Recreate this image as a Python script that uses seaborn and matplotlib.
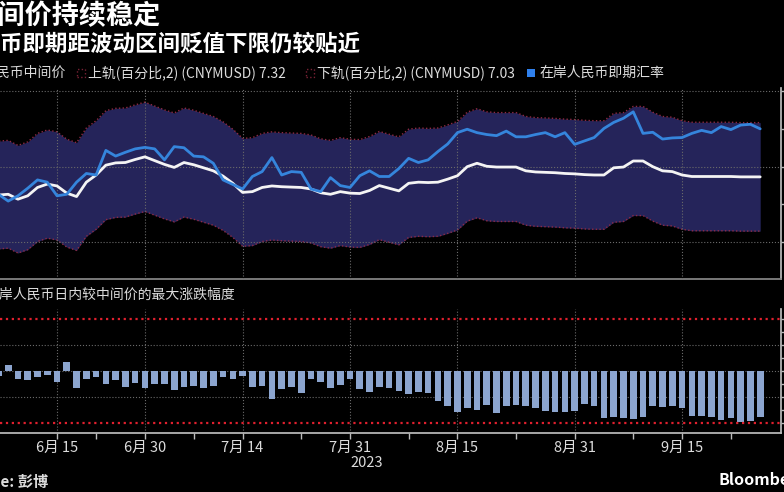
import matplotlib
matplotlib.use("Agg")
import matplotlib.pyplot as plt
from matplotlib.patches import Rectangle
import seaborn as sns
import numpy as np
import pandas as pd

# trading days (China onshore, Dragon Boat holiday removed)
holidays = ["2023-06-22", "2023-06-23"]
dates = pd.bdate_range("2023-06-07", "2023-09-27")
dates = dates[~dates.isin(pd.to_datetime(holidays))]

# 人民币中间价 (CNY fixing)
fixing = [7.125, 7.127, 7.114, 7.123, 7.145, 7.154, 7.149, 7.130, 7.121, 7.159,
          7.178, 7.204, 7.210, 7.211, 7.219, 7.226, 7.216, 7.206, 7.198, 7.211,
          7.205, 7.197, 7.189, 7.175, 7.156, 7.132, 7.134, 7.145, 7.149, 7.147,
          7.146, 7.145, 7.141, 7.131, 7.127, 7.134, 7.130, 7.129, 7.137, 7.150,
          7.143, 7.136, 7.156, 7.159, 7.158, 7.159, 7.167, 7.176, 7.200, 7.209,
          7.201, 7.199, 7.199, 7.199, 7.189, 7.186, 7.185, 7.184, 7.182, 7.181,
          7.179, 7.178, 7.178, 7.197, 7.199, 7.215, 7.215, 7.200, 7.189, 7.187,
          7.178, 7.174, 7.174, 7.174, 7.174, 7.174, 7.173, 7.173, 7.173]

# 在岸人民币即期汇率 (onshore spot)
spot = [7.127, 7.109, 7.123, 7.143, 7.165, 7.159, 7.123, 7.127, 7.159, 7.182,
        7.178, 7.243, 7.228, 7.238, 7.247, 7.251, 7.247, 7.218, 7.253, 7.250,
        7.228, 7.226, 7.209, 7.165, 7.153, 7.141, 7.174, 7.187, 7.224, 7.178,
        7.187, 7.185, 7.141, 7.134, 7.171, 7.150, 7.145, 7.176, 7.189, 7.174,
        7.174, 7.195, 7.222, 7.211, 7.218, 7.240, 7.260, 7.290, 7.299, 7.290,
        7.285, 7.282, 7.294, 7.279, 7.279, 7.285, 7.290, 7.279, 7.290, 7.259,
        7.268, 7.277, 7.301, 7.317, 7.328, 7.345, 7.288, 7.291, 7.273, 7.276,
        7.277, 7.288, 7.296, 7.290, 7.306, 7.298, 7.310, 7.312, 7.300]

# 日内较中间价的最大涨跌幅度 (%)
max_dev = [-0.22, 0.22, -0.32, -0.38, -0.26, -0.17, -0.45, 0.32, -0.68, -0.33,
           -0.26, -0.51, -0.38, -0.64, -0.49, -0.65, -0.53, -0.53, -0.74, -0.62,
           -0.58, -0.68, -0.58, -0.26, -0.33, -0.19, -0.64, -0.59, -1.09, -0.71,
           -0.62, -0.87, -0.32, -0.45, -0.68, -0.55, -0.32, -0.71, -0.83, -0.64,
           -0.68, -0.78, -0.90, -0.82, -0.87, -1.15, -1.35, -1.60, -1.45, -1.51,
           -1.32, -1.64, -1.38, -1.32, -1.36, -1.45, -1.55, -1.58, -1.58, -1.55,
           -1.28, -1.35, -1.83, -1.78, -1.83, -1.88, -1.77, -1.35, -1.41, -1.38,
           -1.45, -1.74, -1.74, -1.78, -1.91, -1.82, -1.96, -1.95, -1.79]

band_pct = 2  # 上轨/下轨 = 中间价 ± 2%

tick_dates = ["2023-06-15", "2023-06-30", "2023-07-14", "2023-07-31",
              "2023-08-15", "2023-08-31", "2023-09-15"]
tick_labels = ["6月 15", "6月 30", "7月 14", "7月 31", "8月 15", "8月 31", "9月 15"]
minor_dates = ["2023-06-21", "2023-07-07", "2023-07-24", "2023-08-08",
               "2023-08-23", "2023-09-08", "2023-09-22"]
top_ticks = [7.0, 7.1, 7.2, 7.3, 7.4]
bottom_ticks = [-2, -1.5, -1, -0.5, 0, 0.5, 1, 1.5, 2]

df = pd.DataFrame({"date": dates, "fixing": fixing, "spot": spot, "dev": max_dev})
df["pos"] = np.arange(len(df))
df["upper"] = df["fixing"] * (1 + band_pct / 100)
df["lower"] = df["fixing"] * (1 - band_pct / 100)

pos_of = {d: p for d, p in zip(df["date"], df["pos"])}
major_pos = [pos_of[pd.Timestamp(d)] for d in tick_dates]
minor_pos = [pos_of[pd.Timestamp(d)] for d in minor_dates]

sns.set_theme(style="dark", rc={"figure.facecolor": "black", "axes.facecolor": "black",
                                "savefig.facecolor": "black"})
plt.rcParams["font.family"] = ["Noto Sans CJK SC", "DejaVu Sans"]

W, H = 784, 492
fig = plt.figure(figsize=(W / 100, H / 100), dpi=100)


def box(left, top, right, bottom):
    return [left / W, 1 - bottom / H, (right - left) / W, (bottom - top) / H]


xlim = (major_pos[0] - 5.84, major_pos[0] + 74.13)
grid_c = "#6a6a6a"
txt_c = "#dcdcdc"

# ---- top panel ----
ax1 = fig.add_axes(box(0, 88, 781, 279))
ax1.fill_between(df["pos"], df["lower"], df["upper"], color="#25245a", lw=0, zorder=1)
ax1.plot(df["pos"], df["upper"], color="#8c2a45", lw=1, ls=":", zorder=2)
ax1.plot(df["pos"], df["lower"], color="#8c2a45", lw=1, ls=":", zorder=2)
sns.lineplot(data=df, x="pos", y="fixing", color="#f4f4f4", lw=2, ax=ax1, zorder=4)
sns.lineplot(data=df, x="pos", y="spot", color="#3585dc", lw=2, ax=ax1, zorder=5)
ax1.set_xlim(*xlim)
ax1.set_ylim(6.903, 7.408)
for p in major_pos:
    ax1.axvline(p, color=grid_c, lw=0.8, ls=":", zorder=3)
for v in [7.0, 7.2, 7.4]:
    ax1.axhline(v, color=grid_c, lw=0.8, ls=":", zorder=3)
ax1.set_xticks([])
ax1.set_yticks(top_ticks)
ax1.set_yticklabels([f"{v:.2f}" for v in top_ticks])
ax1.yaxis.tick_right()
ax1.tick_params(axis="y", colors="#bbbbbb", labelcolor=txt_c, length=3, width=1,
                labelsize=10, right=True, labelright=True)
ax1.set_xlabel("")
ax1.set_ylabel("")
for s in ["left", "top"]:
    ax1.spines[s].set_visible(False)
ax1.spines["right"].set_color("#bbbbbb")
ax1.spines["bottom"].set_color("#888888")

# ---- bottom panel ----
ax2 = fig.add_axes(box(0, 309, 781, 433))
sns.barplot(data=df, x="pos", y="dev", native_scale=True, width=0.68, color="#8ca5cf",
            saturation=1, errorbar=None, linewidth=0, edgecolor="none", ax=ax2, zorder=3)
ax2.set_xlim(*xlim)
ax2.set_ylim(-2.4, 2.37)
for p in major_pos:
    ax2.axvline(p, color=grid_c, lw=0.8, ls=":", zorder=1)
for v in [-1, 0, 1]:
    ax2.axhline(v, color=grid_c, lw=0.8, ls=":", zorder=1)
for v in [-band_pct, band_pct]:
    ax2.axhline(v, color="#e0202e", lw=1.6, ls=":", zorder=4)
ax2.set_xticks(major_pos)
ax2.set_xticklabels(tick_labels)
ax2.set_xticks(minor_pos, minor=True)
ax2.tick_params(axis="x", which="both", colors="#bbbbbb", length=4, width=1, bottom=True,
                labelcolor=txt_c, labelsize=10.5, pad=2)
ax2.set_yticks(bottom_ticks)
ax2.set_yticklabels([f"{v:g}" for v in bottom_ticks])
ax2.yaxis.tick_right()
ax2.tick_params(axis="y", colors="#bbbbbb", labelcolor=txt_c, length=3, width=1,
                labelsize=10, right=True, labelright=True)
ax2.set_xlabel("")
ax2.set_ylabel("")
for s in ["left", "top"]:
    ax2.spines[s].set_visible(False)
ax2.spines["right"].set_color("#bbbbbb")
ax2.spines["bottom"].set_color("#bbbbbb")

# ---- texts (the reference is cropped at both sides) ----
def ftxt(x, y, s, **kw):
    fig.text(x / W, 1 - y / H, s, va="center", **kw)


ftxt(161, 16, "人民币中间价持续稳定", ha="right", color="white", fontsize=19.5, fontweight="bold")
ftxt(360, 44, "在岸人民币即期距波动区间贬值下限仍较贴近", ha="right", color="white",
     fontsize=16.2, fontweight="bold")

ftxt(66, 73, "人民币中间价", ha="right", color=txt_c, fontsize=10)
ftxt(88, 73, "上轨(百分比,2) (CNYMUSD) 7.32", ha="left", color=txt_c, fontsize=10)
ftxt(317, 73, "下轨(百分比,2) (CNYMUSD) 7.03", ha="left", color=txt_c, fontsize=10)
ftxt(539, 73, "在岸人民币即期汇率", ha="left", color=txt_c, fontsize=10)
for x0 in [77, 306]:
    fig.patches.append(Rectangle((x0 / W, 1 - 77 / H), 8 / W, 8 / H, transform=fig.transFigure,
                                 facecolor="none", edgecolor="#7a2235", lw=1, ls=":"))
fig.patches.append(Rectangle((527 / W, 1 - 77 / H), 8 / W, 8 / H, transform=fig.transFigure,
                             facecolor="#2f80ed", edgecolor="none"))

ftxt(235, 295, "在岸人民币日内较中间价的最大涨跌幅度", ha="right", color=txt_c, fontsize=10)
ftxt(367, 463, "2023", ha="center", color=txt_c, fontsize=10.5)
ftxt(48, 482, "Source: 彭博", ha="right", color=txt_c, fontsize=11, fontweight="bold")
ftxt(718, 480, "Bloomberg", ha="left", color="white", fontsize=11.5, fontweight="bold")

fig.savefig("out.png", dpi=100, facecolor="black")
